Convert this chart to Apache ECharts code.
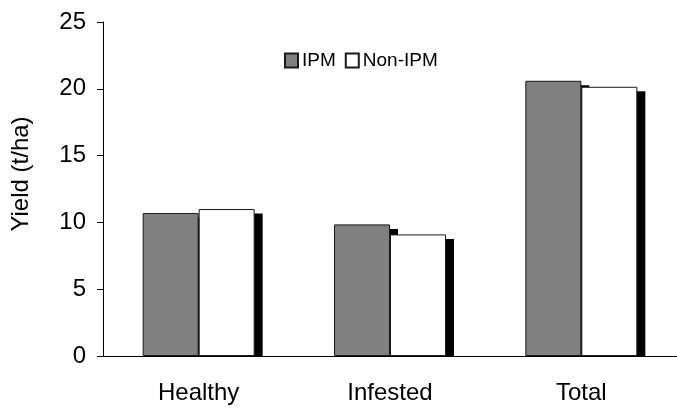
<!DOCTYPE html>
<html>
<head>
<meta charset="utf-8">
<script src="https://cdn.jsdelivr.net/npm/echarts@6/dist/echarts.min.js"></script>
<style>html,body{margin:0;padding:0;background:#fff;}#c{width:677px;height:408px;}</style>
</head>
<body>
<div id="c"></div>
<script>
var categories = ['Healthy', 'Infested', 'Total'];
var ipm = [10.7, 9.85, 20.6];
var nonIpm = [11.0, 9.1, 20.15];
var seriesNames = ['IPM', 'Non-IPM'];
var yTicks = [0, 5, 10, 15, 20, 25];

var font = 'Liberation Sans, Arial, sans-serif';
var BAR_W = 56;
var shadowData = categories.map(function (c, i) { return [i, ipm[i], nonIpm[i]]; });

var chart = echarts.init(document.getElementById('c'), null, {renderer: 'canvas'});
chart.setOption({
  animation: false,
  backgroundColor: '#fff',
  grid: {left: 103, top: 22, bottom: 52, right: -13, containLabel: false},
  legend: {
    data: seriesNames,
    left: 279, top: 46,
    itemWidth: 13, itemHeight: 14, itemGap: 9,
    icon: 'rect',
    textStyle: {fontFamily: font, fontSize: 19, color: '#000', padding: [0, 0, 0, -1]}
  },
  xAxis: {
    type: 'category',
    data: categories,
    boundaryGap: true,
    axisLine: {lineStyle: {color: '#000', width: 1}},
    axisTick: {inside: true, length: 5, lineStyle: {color: '#000'}},
    axisLabel: {fontFamily: font, fontSize: 24, color: '#000', margin: 25},
    z: 10
  },
  yAxis: {
    type: 'value',
    min: yTicks[0], max: yTicks[yTicks.length - 1], interval: 5,
    name: 'Yield (t/ha)',
    nameLocation: 'middle',
    nameGap: 70,
    nameTextStyle: {fontFamily: font, fontSize: 24, color: '#000', padding: [0, 0, 0, 30]},
    axisLine: {show: true, lineStyle: {color: '#000', width: 1}},
    axisTick: {show: true, inside: false, length: 6, lineStyle: {color: '#000'}},
    axisLabel: {fontFamily: font, fontSize: 24, color: '#000', margin: 17},
    splitLine: {show: false}
  },
  series: [
    {
      name: 'shadow', type: 'custom', z: 1, silent: true,
      data: shadowData,
      encode: {x: 0, y: [1, 2]},
      renderItem: function (params, api) {
        var idx = api.value(0);
        var base = api.coord([idx, 0]);
        var kids = [];
        for (var j = 0; j < 2; j++) {
          var top = api.coord([idx, api.value(1 + j)]);
          var x0 = base[0] - BAR_W + j * BAR_W;
          kids.push({
            type: 'rect',
            shape: {x: x0 + 8, y: top[1] + 4.5, width: BAR_W, height: base[1] - top[1] - 4.5},
            style: {fill: '#000'}
          });
        }
        return {type: 'group', children: kids};
      }
    },
    {name: seriesNames[0], type: 'bar', z: 2, data: ipm, barWidth: BAR_W, barGap: '0%',
      itemStyle: {color: '#808080', borderColor: '#1a1a1a', borderWidth: 1}},
    {name: seriesNames[1], type: 'bar', z: 2, data: nonIpm, barWidth: BAR_W, barGap: '0%',
      itemStyle: {color: '#ffffff', borderColor: '#1a1a1a', borderWidth: 1}}
  ]
});
</script>
</body>
</html>
